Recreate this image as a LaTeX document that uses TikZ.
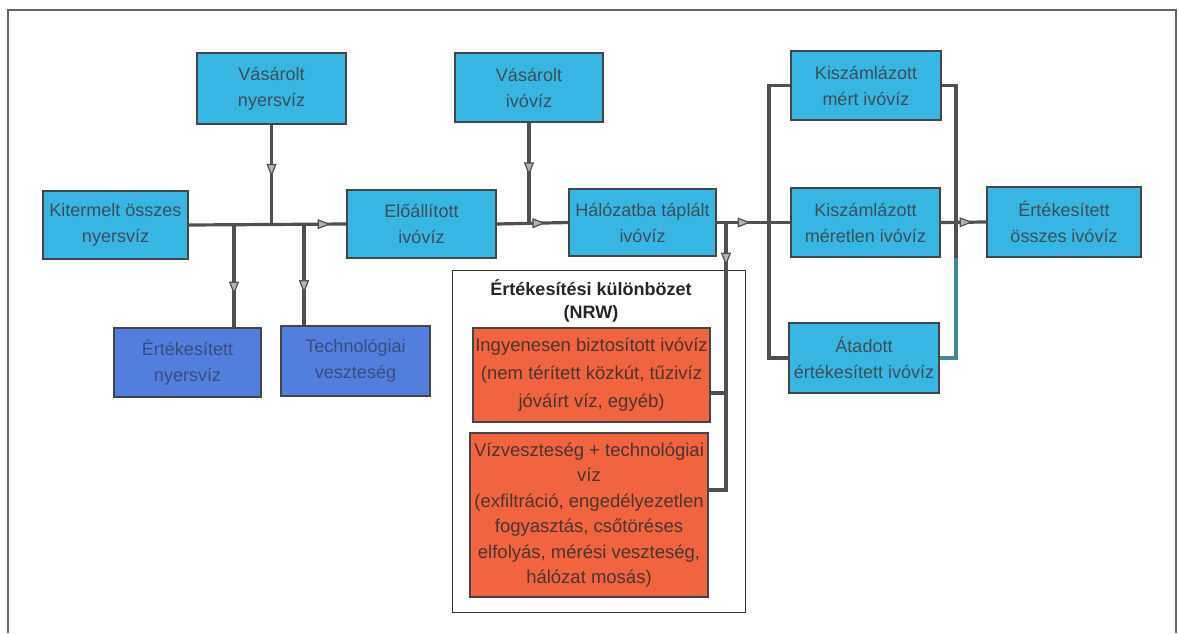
\documentclass[tikz,border=0pt]{standalone}
\usepackage{fontspec}
\setmainfont{Liberation Sans}
\usetikzlibrary{arrows.meta,decorations.markings}
\definecolor{boxcyan}{HTML}{38B6E3}
\definecolor{boxblue}{HTML}{527FDD}
\definecolor{boxorange}{HTML}{F26340}
\definecolor{boxline}{HTML}{454545}
\definecolor{boxtext}{HTML}{3C4E5A}
\definecolor{bluetext}{HTML}{3A4C80}
\definecolor{orangetext}{HTML}{4A3530}
\definecolor{connline}{HTML}{505050}
\definecolor{tealline}{HTML}{3E8C92}
\definecolor{framegray}{HTML}{666666}
\begin{document}
\begin{tikzpicture}[x=1pt,y=-1pt,
  box/.style={draw=boxline, line width=1.3pt, fill=boxcyan, text=boxtext, align=center,
    inner sep=0pt, font=\fontsize{18}{26}\selectfont},
  bluebox/.style={box, fill=boxblue, text=bluetext},
  orangebox/.style={draw=boxline, line width=1.3pt, fill=boxorange, text=orangetext, align=center,
    inner sep=0pt},
  nrwframe/.style={draw=black!80, line width=1pt, inner sep=0pt},
  conn/.style={draw=connline, line width=3.2pt},
  midarrow/.style={postaction={decorate}, decoration={markings,
    mark=at position #1 with {\arrow{Triangle[length=13pt, width=10pt, line width=1.2pt, fill=black!30]}}}}
]
\useasboundingbox (0,0) rectangle (1178,633);
% outer frame
\draw[framegray, line width=1.2pt] (8,633) -- (8,10) -- (1176,10) -- (1176,633);

% nodes
\node[box, minimum width=149pt, minimum height=71pt] (vn) at (271.5,88.5) {Vásárolt\\nyersvíz};
\node[box, minimum width=148pt, minimum height=69pt] (vi) at (529,87.5) {Vásárolt\\ivóvíz};
\node[box, minimum width=145pt, minimum height=68pt] (kit) at (115.5,225) {Kitermelt összes\\nyersvíz};
\node[box, minimum width=149pt, minimum height=68pt] (elo) at (421.5,224) {Előállított\\ivóvíz};
\node[box, minimum width=147pt, minimum height=67pt] (hal) at (642.5,222.5) {Hálózatba táplált\\ivóvíz};
\node[box, minimum width=150pt, minimum height=69pt] (kmert) at (866,85.5) {Kiszámlázott\\mért ivóvíz};
\node[box, minimum width=149pt, minimum height=69pt] (kmeretlen) at (865.5,222.5) {Kiszámlázott\\méretlen ivóvíz};
\node[box, minimum width=154pt, minimum height=70pt] (ert) at (1064,222) {Értékesített\\összes ivóvíz};
\node[box, minimum width=150pt, minimum height=70pt] (atad) at (864,358) {Átadott\\értékesített ivóvíz};
\node[bluebox, minimum width=147pt, minimum height=69pt] (en) at (187.5,362.5) {Értékesített\\nyersvíz};
\node[bluebox, minimum width=149pt, minimum height=70pt] (tv) at (355.5,361) {Technológiai\\veszteség};

\node[nrwframe, minimum width=293pt, minimum height=342pt] (nrw) at (598.5,441) {};
\node[align=center, text=black!85, font=\bfseries\fontsize{18}{23}\selectfont] (nrwt) at (591,301)
  {Értékesítési különbözet\\(NRW)};
\node[orangebox, minimum width=237pt, minimum height=94pt, font=\fontsize{18.5}{28}\selectfont] (o1) at (591.5,375)
  {Ingyenesen biztosított ivóvíz\\(nem térített közkút, tűzivíz\\jóváírt víz, egyéb)};
\node[orangebox, minimum width=238pt, minimum height=164pt, font=\fontsize{18.5}{25.5}\selectfont] (o2) at (589,515)
  {Vízveszteség + technológiai\\víz\\(exfiltráció, engedélyezetlen\\fogyasztás, csőtöréses\\elfolyás, mérési veszteség,\\hálózat mosás)};

% junction coordinates
\coordinate (j1) at (vn.south |- kit.east);
\coordinate (b1) at (234,225);
\coordinate (b2) at (304,225);
\coordinate (j2) at (vi.south |- elo.east);
\coordinate (j3) at (726,222.5);
\coordinate (o1s) at ([yshift=-18pt]o1.east);
\coordinate (o2s) at ([yshift=25pt]o2.east);
\coordinate (busL) at (769,222);
\coordinate (busR) at (956,222);

% connectors
\draw[conn, midarrow=0.9] (kit.east) -- (elo.west);
\draw[conn, midarrow=0.52] (vn.south) -- (j1);
\draw[conn, midarrow=0.68] (b1) -- (b1 |- en.north);
\draw[conn, midarrow=0.68] (b2) -- (b2 |- tv.north);
\draw[conn, midarrow=0.68] (elo.east) -- (hal.west);
\draw[conn, midarrow=0.52] (vi.south) -- (j2);
\draw[conn, midarrow=0.46] (hal.east) -- (kmeretlen.west);
\draw[conn, midarrow=0.92] (j3) -- (j3 |- nrw.north);
\draw[conn] (j3 |- nrw.north) -- (j3 |- o2s) -- (o2s);
\draw[conn] (j3 |- o1s) -- (o1s);
\draw[conn] (kmert.west) -- (kmert.west -| busL) -- (atad.west -| busL) -- (atad.west);
\draw[conn] (kmert.east) -- (kmert.east -| busR) -- (busR |- kmeretlen.south);
\draw[conn, draw=tealline] (busR |- kmeretlen.south) -- (atad.east -| busR) -- (atad.east);
\draw[conn, midarrow=0.7] (kmeretlen.east) -- (ert.west);
\end{tikzpicture}
\end{document}
